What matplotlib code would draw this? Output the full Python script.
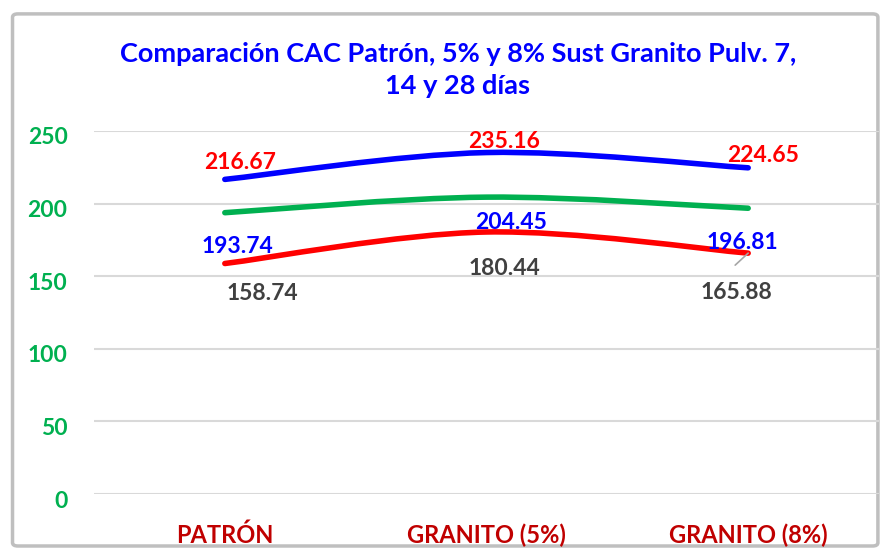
import numpy as np
import matplotlib
matplotlib.use("Agg")
import matplotlib.pyplot as plt
import matplotlib.transforms as mtransforms
from matplotlib.path import Path
from matplotlib.patches import PathPatch, FancyBboxPatch

plt.rcParams['font.family'] = ['Lato', 'DejaVu Sans']

categories = ['PATRÓN', 'GRANITO (5%)', 'GRANITO (8%)']
dias_28 = [216.67, 235.16, 224.65]
dias_14 = [193.74, 204.45, 196.81]
dias_7 = [158.74, 180.44, 165.88]
yticks = [0, 50, 100, 150, 200, 250]
title = 'Comparación CAC Patrón, 5% y 8% Sust Granito Pulv. 7,\n14 y 28 días'


def smooth_path(x, y, t=1/6):
    # Excel-style smoothed line as cubic bezier segments
    pts = list(zip(x, y))
    verts = [pts[0]]
    codes = [Path.MOVETO]
    n = len(pts)
    for i in range(n - 1):
        p0 = pts[i - 1] if i > 0 else pts[i]
        p1, p2 = pts[i], pts[i + 1]
        p3 = pts[i + 2] if i + 2 < n else pts[i + 1]
        c1 = (p1[0] + (p2[0] - p0[0]) * t, p1[1] + (p2[1] - p0[1]) * t)
        c2 = (p2[0] - (p3[0] - p1[0]) * t, p2[1] - (p3[1] - p1[1]) * t)
        verts += [c1, c2, p2]
        codes += [Path.CURVE4] * 3
    return Path(verts, codes)


fig = plt.figure(figsize=(8.94, 5.56), dpi=100)
fig.patch.set_facecolor('white')

# chart frame
frame = FancyBboxPatch((0.014, 0.018), 0.968, 0.957, boxstyle='round,pad=0,rounding_size=0.006',
                       transform=fig.transFigure, facecolor='white', edgecolor='#BFBFBF',
                       linewidth=2.5, zorder=-5)
fig.patches.append(frame)

ax = fig.add_axes([94 / 894, 1 - 494 / 556, 785 / 894, (494 - 131) / 556])
ax.set_facecolor('none')
ax.set_xlim(-0.5, 2.5)
ax.set_ylim(0, 250)

x = np.arange(len(categories))
colors = ['#0000FF', '#00B050', '#FF0000']
for series, c in zip([dias_28, dias_14, dias_7], colors):
    ax.add_patch(PathPatch(smooth_path(x, series), facecolor='none', edgecolor=c,
                           linewidth=4, capstyle='round', zorder=3))

# data labels (pixel offsets from each point)
off_28 = [(15, 17), (18, 11), (15, 12)]
off_14 = [(13, -34), (25, -25), (-6, -34)]
off_7 = [(38, -30), (18, -36), (-12, -39)]
for vals, offs, col in [(dias_28, off_28, '#FF0000'), (dias_14, off_14, '#0000FF'),
                        (dias_7, off_7, '#404040')]:
    for i, (v, o) in enumerate(zip(vals, offs)):
        ax.annotate(f'{v:.2f}', (i, v), xytext=o, textcoords='offset pixels',
                    ha='center', va='center', fontsize=16.5, fontweight='bold', color=col, zorder=5)

# leader line for the last red point label
ax.annotate('', (2, dias_7[2]), xytext=(-13, -12), textcoords='offset pixels',
            arrowprops=dict(arrowstyle='-', color='#A6A6A6', lw=1.2, shrinkA=0, shrinkB=0))

ax.set_yticks(yticks)
ax.set_xticks(x)
ax.set_xticklabels(categories)
ax.grid(axis='y', color='#D9D9D9', linewidth=1.5)
ax.set_axisbelow(True)
for s in ax.spines.values():
    s.set_visible(False)
ax.tick_params(length=0)
ax.tick_params(axis='y', pad=19, labelcolor='#00B050', labelsize=16.5)
ax.tick_params(axis='x', pad=21, labelcolor='#C00000', labelsize=17)
shift = mtransforms.ScaledTranslation(0, -5 / 100, fig.dpi_scale_trans)
for lab in ax.get_yticklabels():
    lab.set_fontweight('bold')
    lab.set_transform(lab.get_transform() + shift)
for lab in ax.get_xticklabels():
    lab.set_fontweight('bold')

fig.text(458 / 894, 1 - 70 / 556, title, ha='center', va='center', fontsize=19.5,
         fontweight='bold', color='#0000FF', linespacing=1.45)

fig.savefig('out.png', dpi=100)
